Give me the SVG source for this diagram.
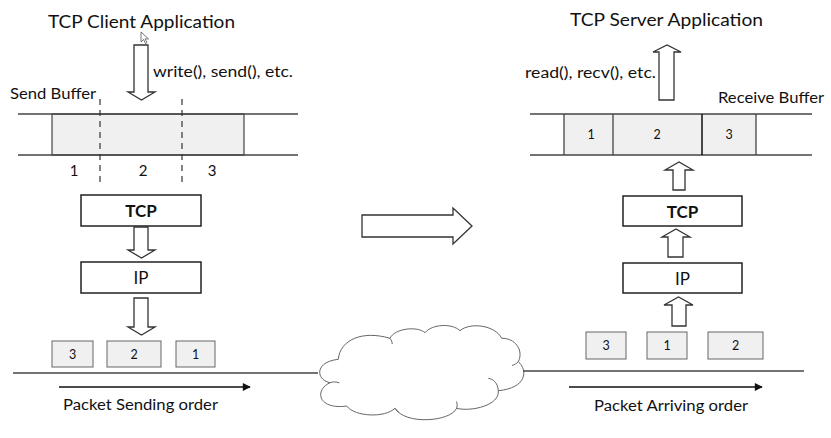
<svg xmlns="http://www.w3.org/2000/svg" width="831" height="438" viewBox="0 0 831 438">
<defs>
<style>
text{font-family:Lato,"Open Sans","Liberation Sans",sans-serif;fill:#111}
.t{font-size:18px}
.m{font-size:15.5px}
.n{font-size:15px;text-anchor:middle}
.s{font-size:12.5px;text-anchor:middle}
.b{font-size:17px;font-weight:bold;text-anchor:middle}
.l{font-size:17px;text-anchor:middle}
.box{fill:#fff;stroke:#222;stroke-width:1.5}
.pkt{fill:#f0f0f0;stroke:#666;stroke-width:1}
.ln{stroke:#444;stroke-width:1.3;fill:none}
.ar{fill:#fff;stroke:#333;stroke-width:1.3}
.cl{fill:none;stroke:#666;stroke-width:1}
</style>
<marker id="ah" viewBox="0 0 10 10" refX="9" refY="5" markerWidth="12" markerHeight="8" markerUnits="userSpaceOnUse" orient="auto"><path d="M0,0 L10,5 L0,10 z" fill="#111"/></marker>
</defs>
<rect width="831" height="438" fill="#fff"/>

<g id="client-app"><text class="t" x="48" y="28" textLength="187" lengthAdjust="spacingAndGlyphs">TCP Client Application</text></g>
<path d="M141,32 v10 l2.5,-2.5 l2,4 l1.5,-0.8 l-2,-3.8 h3.5 z" fill="#fff" stroke="#555" stroke-width="0.8"/>

<g id="send-buffer">
<text class="m" x="10" y="99" textLength="86" lengthAdjust="spacingAndGlyphs">Send Buffer</text>
<rect x="52" y="114" width="192" height="41" fill="#f0f0f0" stroke="#444" stroke-width="1.2"/>
<line class="ln" x1="18" y1="114" x2="298" y2="114"/>
<line class="ln" x1="18" y1="155" x2="298" y2="155"/>
<line x1="100" y1="99" x2="100" y2="183" stroke="#333" stroke-width="1.2" stroke-dasharray="6,5"/>
<line x1="182" y1="99" x2="182" y2="183" stroke="#333" stroke-width="1.2" stroke-dasharray="6,5"/>
<text class="n" x="74" y="176">1</text>
<text class="n" x="143" y="176">2</text>
<text class="n" x="212" y="176">3</text>
</g>

<g id="client-tcp"><rect class="box" x="81" y="195" width="120" height="31"/><text class="b" x="141" y="217">TCP</text></g>
<g id="client-ip"><rect class="box" x="81" y="262" width="120" height="31"/><text class="l" x="141" y="284">IP</text></g>

<g id="client-packets">
<rect class="pkt" x="52" y="341" width="41" height="26"/><text class="s" x="72.5" y="359">3</text>
<rect class="pkt" x="107" y="341" width="54" height="26"/><text class="s" x="134" y="359">2</text>
<rect class="pkt" x="176" y="341" width="39" height="26"/><text class="s" x="195.5" y="359">1</text>
</g>

<g id="server-app"><text class="t" x="570" y="26" textLength="193" lengthAdjust="spacingAndGlyphs">TCP Server Application</text></g>

<g id="receive-buffer">
<text class="m" x="718" y="103" textLength="106" lengthAdjust="spacingAndGlyphs">Receive Buffer</text>
<rect x="564" y="114" width="192" height="41" fill="#f0f0f0"/>
<line class="ln" x1="530" y1="114" x2="812" y2="114"/>
<line class="ln" x1="530" y1="155" x2="812" y2="155"/>
<line class="ln" x1="564" y1="114" x2="564" y2="155"/>
<line class="ln" x1="613" y1="114" x2="613" y2="155"/>
<line x1="702" y1="114" x2="702" y2="155" stroke="#111" stroke-width="1.5"/>
<line class="ln" x1="756" y1="114" x2="756" y2="155"/>
<text class="s" x="591" y="139">1</text>
<text class="s" x="657" y="139">2</text>
<text class="s" x="729" y="139">3</text>
</g>

<g id="server-tcp"><rect class="box" x="623" y="196" width="119" height="30"/><text class="b" x="682.5" y="218">TCP</text></g>
<g id="server-ip"><rect class="box" x="623" y="263" width="119" height="30"/><text class="l" x="682.5" y="285">IP</text></g>

<g id="server-packets">
<rect class="pkt" x="586" y="332" width="40" height="27"/><text class="s" x="606" y="350">3</text>
<rect class="pkt" x="647" y="332" width="40" height="27"/><text class="s" x="667" y="350">1</text>
<rect class="pkt" x="708" y="332" width="55" height="27"/><text class="s" x="735.5" y="350">2</text>
</g>

<g id="network">
<path d="M330,382.7 C316,380 314,362 338.3,359.3 C340,340 362,330 390,338.3 C395,328 418,326 425,332.7 C432,324 452,323 460,330.7 C470,322 495,325 501.7,338.3 C515,338 524,350 518.3,361.7 C528,370 527,388 498.3,390.7 C500,405 472,412 456.7,408.3 C450,422 405,425 395,408.3 C385,418 355,417 346.7,406 C318,410 314,390 330,382.7 Z" fill="#fff" stroke="#666" stroke-width="1"/>
<path class="cl" d="M330,382.7 C333,381.5 336,381.8 339.3,382.8"/>
<path class="cl" d="M488.3,378.3 C494,379 498,384 498.3,390.7"/>
<path class="cl" d="M456.7,408.3 C457.5,405 457,403 456.5,401.5"/>
<path class="cl" d="M395,408.3 C396,410 397.5,411.5 399,412.5"/>
<path class="cl" d="M390,338.3 C391.5,340 392,342 392.3,344"/>
<path class="cl" d="M518.3,361.7 C516.5,363.5 514.5,364.8 512,365.5"/>
</g>

<g id="connectors">
<line class="ln" x1="13" y1="373" x2="318" y2="373"/>
<line class="ln" x1="523" y1="371" x2="804" y2="371"/>
<line x1="59" y1="387" x2="250" y2="387" stroke="#111" stroke-width="1.3" marker-end="url(#ah)"/>
<line x1="569" y1="387" x2="762" y2="387" stroke="#111" stroke-width="1.3" marker-end="url(#ah)"/>
<path class="ar" d="M134,45 H148 V92 H155 L141.5,100 L128,92 H134 Z"/>
<path class="ar" d="M134,227 H148 V250 H155 L141.5,258 L128,250 H134 Z"/>
<path class="ar" d="M134,298 H148 V327 H155 L141.5,335 L128,327 H134 Z"/>
<path class="ar" d="M362,215 H453 V208 L472,226 L453,244 V237 H362 Z"/>
<path class="ar" d="M659,100 V52 H653 L667,45 L681,52 H674 V100 Z"/>
<path class="ar" d="M673,190 V170 H665 L679,162 L693,170 H685 V190 Z"/>
<path class="ar" d="M668,257 V237 H662 L676,229 L690,237 H683 V257 Z"/>
<path class="ar" d="M672,326 V305 H664 L678.5,297 L693,305 H686 V326 Z"/>
</g>

<text class="m" x="153" y="77" textLength="140" lengthAdjust="spacingAndGlyphs">write(), send(), etc.</text>
<text class="m" x="525" y="78" textLength="131" lengthAdjust="spacingAndGlyphs">read(), recv(), etc.</text>
<text class="m" x="63" y="410" textLength="155" lengthAdjust="spacingAndGlyphs">Packet Sending order</text>
<text class="m" x="594" y="411" textLength="154" lengthAdjust="spacingAndGlyphs">Packet Arriving order</text>
</svg>
